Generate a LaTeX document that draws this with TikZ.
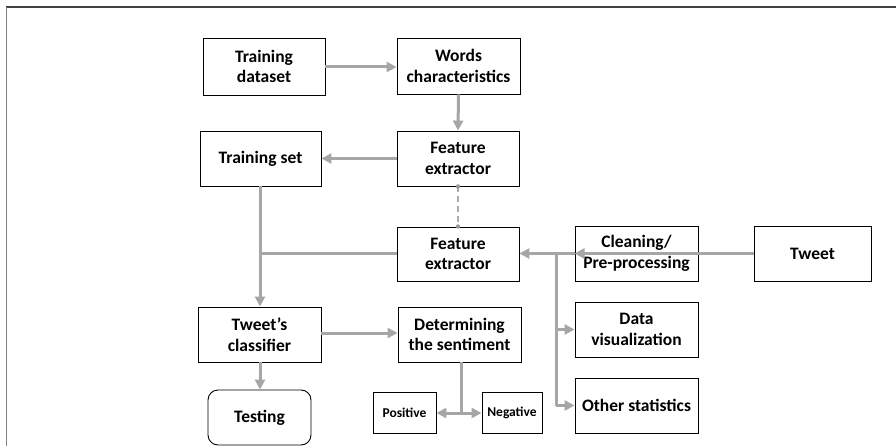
\documentclass[tikz,border=0pt]{standalone}
\usepackage{fontspec}
\setmainfont{Carlito}
\usetikzlibrary{arrows.meta}
\begin{document}
\begin{tikzpicture}[x=1pt,y=-1pt,
  box/.style={draw=black,line width=0.9pt,align=center,inner sep=0pt,font=\fontsize{17.5}{20.5}\selectfont\bfseries,minimum width=#1},
  box/.default=122pt,
  smallbox/.style={draw=black,line width=0.9pt,align=center,inner sep=0pt,font=\fontsize{13.5}{15}\selectfont\bfseries,minimum height=41pt},
  conn/.style={draw=black!35,line width=3pt},
  arr/.style={conn,-{Triangle[length=10pt,width=10pt]}},
]
\useasboundingbox (0,0) rectangle (896,446);
\fill[white] (0,0) rectangle (896,446);
% outer frame
\draw[black!75,line width=1.8pt] (6,7) -- (896,7);
\draw[black!50,line width=1.8pt] (6.5,7) -- (6.5,446);

\node[box,minimum height=57pt] (tds) at (264,66.5) {Training\\dataset};
\node[box=123pt,minimum height=56pt] (wc) at (458.5,66) {Words\\characteristics};
\node[box,minimum height=55pt] (fe1) at (458,158.5) {Feature\\extractor};
\node[box=121pt,minimum height=55pt] (ts) at (260.5,158.5) {Training set};
\node[box,minimum height=54pt] (fe2) at (458,254) {Feature\\extractor};
\node[box=123pt,minimum height=55pt] (cl) at (636.5,253.5) {Cleaning/\\Pre-processing};
\node[box=117pt,minimum height=55pt] (tw) at (812.5,253.5) {Tweet};
\node[box=123pt,minimum height=55pt] (dv) at (636.5,329.5) {Data\\visualization};
\node[box=123pt,minimum height=55pt] (os) at (636.5,405.5) {Other statistics};
\node[box=123pt,minimum height=55pt] (tc) at (259.5,334.5) {Tweet’s\\classifier};
\node[box=123pt,minimum height=55pt] (ds) at (459.5,334.5) {Determining\\the sentiment};
\node[box=103pt,minimum height=55pt,rounded corners=10pt] (te) at (259.5,417.5) {Testing};
\node[smallbox,minimum width=63pt] (po) at (404.5,412.5) {Positive};
\node[smallbox,minimum width=60pt] (ne) at (512,412.5) {Negative};

\coordinate (j1) at (260,253.5);
\coordinate (j2) at (556,253.5);
\coordinate (j3) at (556,329.5);
\coordinate (j4) at (556,405.5);
\coordinate (j5) at (461,413);

\draw[arr] (tds.east |- 0,67) -- (wc.west |- 0,67);
\draw[arr] (wc.south) -- (fe1.north);
\draw[arr] (fe1.west) -- (ts.east);
\draw[black!33,line width=1.3pt,dash pattern=on 6pt off 4pt] (fe1.south) -- (fe2.north);
\fill[black!40] (fe1.south) circle (2.2pt) (fe2.north) circle (2.2pt);
\draw[arr] (ts.south -| j1) -- (tc.north -| j1);
\draw[conn] (fe2.west |- j1) -- (j1);
\draw[arr] (tw.west) -- (cl.west);
\draw[arr] (cl.west) -- (fe2.east |- cl.west);
\draw[conn] (j2) -- (j4);
\draw[arr] (j3) -- (dv.west);
\draw[arr] (j4) -- (os.west);
\draw[arr] (tc.east |- 0,333) -- (ds.west |- 0,333);
\draw[arr] (tc.south -| j1) -- (te.north -| j1);
\draw[conn] (ds.south -| j5) -- (j5);
\draw[arr] (j5) -- (po.east |- j5);
\draw[arr] (j5) -- (ne.west |- j5);
\end{tikzpicture}
\end{document}
